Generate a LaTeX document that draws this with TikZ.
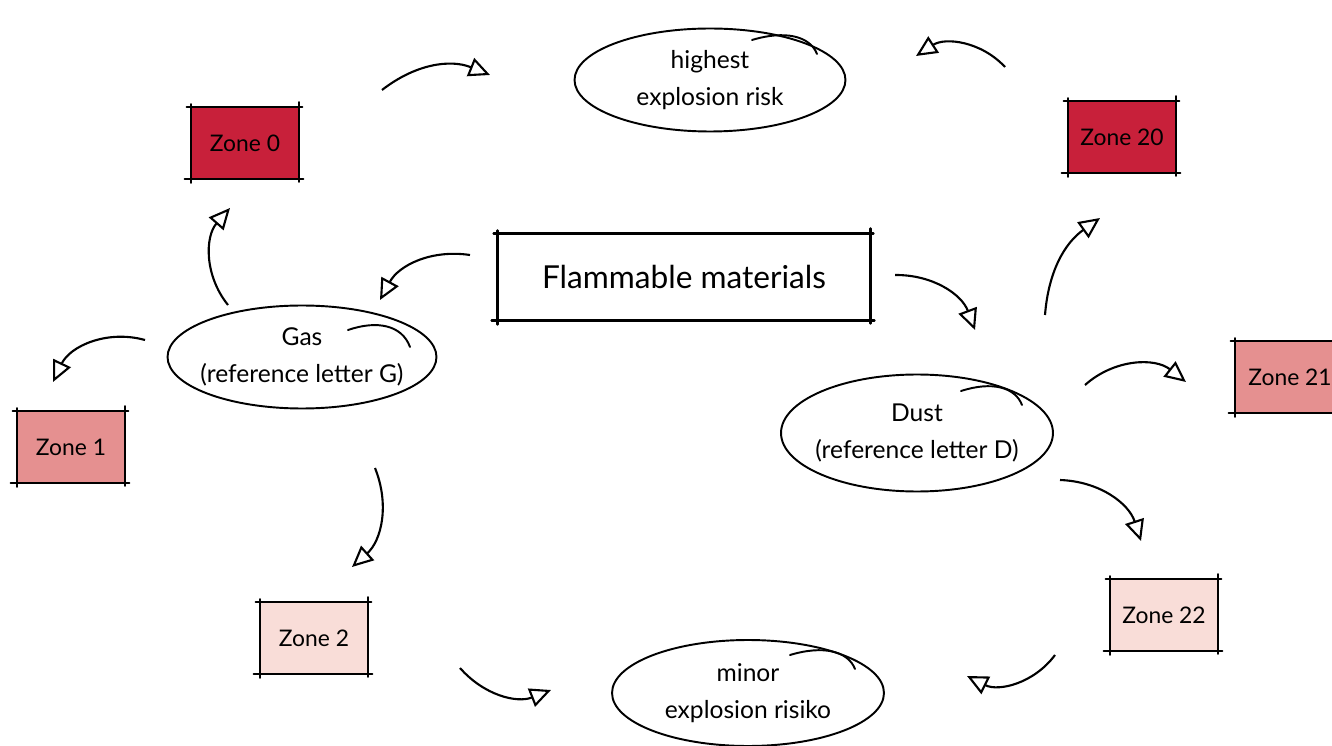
\documentclass[tikz,border=0pt]{standalone}
\usepackage{fontspec}
\setmainfont{Lato}
\usetikzlibrary{arrows.meta,shapes.geometric,calc}
\definecolor{zred}{HTML}{C8203A}
\definecolor{zmid}{HTML}{E59090}
\definecolor{zpale}{HTML}{F9DDD8}
\tikzset{
  zonebox/.style={draw=none, minimum width=2.16cm, minimum height=1.42cm, inner sep=0pt, font=\fontsize{13}{15}\selectfont},
  ovalnode/.style={ellipse, draw=black, line width=1.1pt, inner xsep=-40pt, inner ysep=-20pt, align=center, font=\fontsize{14}{21}\selectfont},
  titlebox/.style={draw=none, minimum width=7.44cm, minimum height=1.72cm, inner sep=0pt, font=\fontsize{18}{20}\selectfont},
  flow/.style={line width=1.2pt, -{Triangle[open, length=12pt, width=11pt, line width=1.2pt]}},
  edge line/.style={line width=1.2pt, line cap=round},
  tail/.style={line width=1.1pt, line cap=round},
}
\newcommand\skbox[2][1.2pt]{%
  \draw[edge line, line width=#1] ($(#2.north west)+(-4,0)$) -- ($(#2.north east)+(3,0)$);
  \draw[edge line, line width=#1] ($(#2.south west)+(-6,0)$) -- ($(#2.south east)+(4,0)$);
  \draw[edge line, line width=#1] ($(#2.north west)+(0,-3)$) -- ($(#2.south west)+(0,4)$);
  \draw[edge line, line width=#1] ($(#2.north east)+(0,-5)$) -- ($(#2.south east)+(0,3)$);
}
\newcommand\ovtail[9]{%
  \draw[tail] ($(#1.center)+(#2,#3)$) .. controls ($(#1.center)+(#4,#5)$) and ($(#1.center)+(#6,#7)$) .. ($(#1.center)+(#8,#9)$);
}
\begin{document}
\begin{tikzpicture}[x=0.02cm, y=-0.02cm]
\useasboundingbox (0,0) rectangle (1332,746);
% nodes
\node[ovalnode, minimum width=5.42cm, minimum height=2.06cm] (high) at (710,80) {highest\\explosion risk};
\node[ovalnode, minimum width=5.44cm, minimum height=2.12cm] (minor) at (748,693) {minor\\explosion risiko};
\node[ovalnode, minimum width=5.38cm, minimum height=2.06cm] (gas) at (302,357) {Gas\\(reference letter G)};
\node[ovalnode, minimum width=5.44cm, minimum height=2.34cm] (dust) at (917,433) {Dust\\(reference letter D)};
\node[titlebox] (flam) at (684,277) {Flammable materials};
\node[zonebox, fill=zred] (z0) at (245,143) {Zone 0};
\node[zonebox, fill=zred] (z20) at (1122,137) {Zone 20};
\node[zonebox, fill=zmid] (z1) at (71,447) {Zone 1};
\node[zonebox, fill=zmid, minimum width=2.2cm] (z21) at (1290,377) {Zone 21};
\node[zonebox, fill=zpale] (z2) at (314,638) {Zone 2};
\node[zonebox, fill=zpale] (z22) at (1164,615) {Zone 22};
% sketchy outlines
\skbox[1.6pt]{flam}
\skbox{z0} \skbox{z20} \skbox{z1} \skbox{z2} \skbox{z22}
\draw[edge line] ($(z21.north west)+(-4,0)$) -- (z21.north east);
\draw[edge line] ($(z21.south west)+(-6,0)$) -- (z21.south east);
\draw[edge line] ($(z21.north west)+(0,-3)$) -- ($(z21.south west)+(0,4)$);
\ovtail{high}{42}{-40}{75}{-50}{100}{-44}{107}{-26}
\ovtail{gas}{46}{-27}{75}{-37}{100}{-32}{108}{-10}
\ovtail{dust}{44}{-42}{75}{-52}{98}{-46}{105}{-28}
\ovtail{minor}{42}{-38}{75}{-48}{100}{-42}{107}{-24}
% arrow end points
\coordinate (a1s) at (382,90);   \coordinate (a1e) at (490,75);
\coordinate (a2s) at (1005,67);  \coordinate (a2e) at (916,56);
\coordinate (a3s) at (470,255);  \coordinate (a3e) at (380,300);
\coordinate (a4s) at (895,275);  \coordinate (a4e) at (975,330);
\coordinate (a5s) at (228,305);  \coordinate (a5e) at (230,208);
\coordinate (a6s) at (145,340);  \coordinate (a6e) at (53,382);
\coordinate (a7s) at (375,468);  \coordinate (a7e) at (352,567);
\coordinate (a8s) at (1045,315); \coordinate (a8e) at (1100,218);
\coordinate (a9s) at (1085,385); \coordinate (a9e) at (1186,382);
\coordinate (a10s) at (1060,480); \coordinate (a10e) at (1141,541);
\coordinate (a11s) at (460,668); \coordinate (a11e) at (551,690);
\coordinate (a12s) at (1055,655); \coordinate (a12e) at (967,676);
% connectors
\draw[flow] (a1s) to[bend left=30] (a1e);
\draw[flow] (a2s) to[bend right=40] (a2e);
\draw[flow] (a3s) to[bend right=35] (a3e);
\draw[flow] (a4s) to[bend left=35] (a4e);
\draw[flow] (a5s) to[bend left=40] (a5e);
\draw[flow] (a6s) to[bend right=40] (a6e);
\draw[flow] (a7s) to[bend left=35] (a7e);
\draw[flow] (a8s) to[bend left=25] (a8e);
\draw[flow] (a9s) to[bend left=40] (a9e);
\draw[flow] (a10s) to[bend left=35] (a10e);
\draw[flow] (a11s) to[bend right=35] (a11e);
\draw[flow] (a12s) to[bend left=40] (a12e);
\end{tikzpicture}
\end{document}
